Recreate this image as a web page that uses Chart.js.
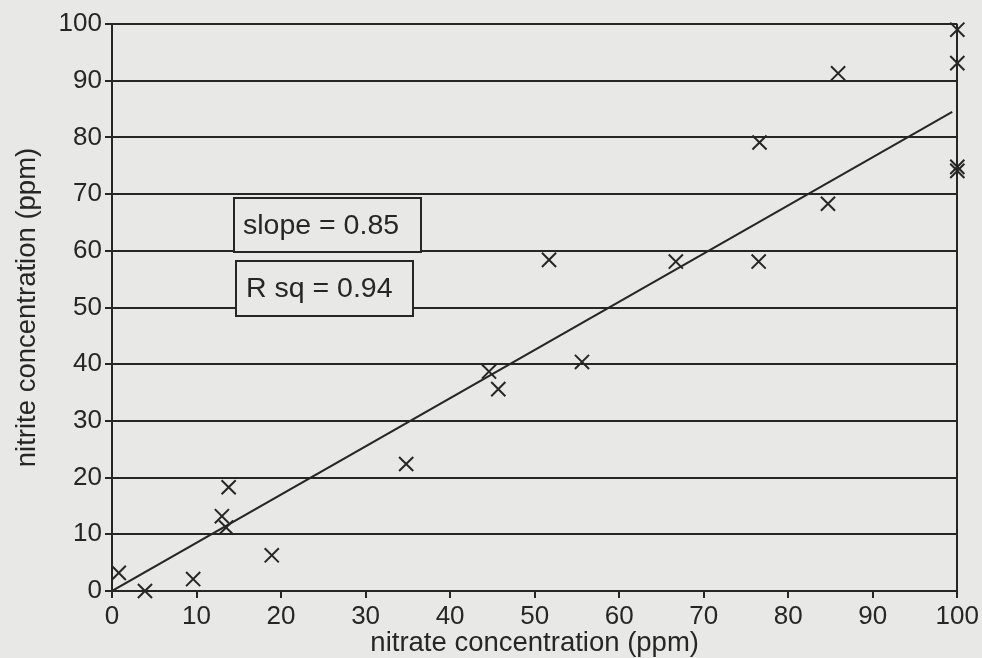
<!DOCTYPE html>
<html>
<head>
<meta charset="utf-8">
<script src="https://cdn.jsdelivr.net/npm/chart.js@4/dist/chart.umd.min.js"></script>
<style>
  html, body { margin: 0; padding: 0; background: #e8e8e6; }
  #wrap { width: 982px; height: 658px; position: relative; }
</style>
</head>
<body>
<div id="wrap"><canvas id="chart"></canvas></div>
<script>
// nitrate vs nitrite scatter, with fitted line and two text boxes
const nitrate = [0.8, 3.9, 9.6, 13.0, 13.8, 13.5, 18.9, 34.8, 44.6, 45.7, 55.6, 51.7, 66.7, 76.5, 76.6, 84.7, 85.9, 100, 100, 100, 100];
const nitrite = [3.2, 0, 2.1, 13.2, 18.3, 11.2, 6.3, 22.4, 38.7, 35.6, 40.4, 58.4, 58.1, 58.1, 79.1, 68.3, 91.3, 99.0, 93.1, 74.8, 74.1];

// fitted line end points
const fitX = [0, 99.4];
const fitY = [0, 84.5];

const xTicks = [0, 10, 20, 30, 40, 50, 60, 70, 80, 90, 100];
const yTicks = [0, 10, 20, 30, 40, 50, 60, 70, 80, 90, 100];

const boxTexts = ['slope = 0.85', 'R sq = 0.94'];

const INK = '#262626';
const PAPER = '#e8e8e6';
const FONT = '"Liberation Sans", Arial, sans-serif';

Chart.defaults.font.family = FONT;
Chart.defaults.color = INK;

// text boxes drawn over the grid lines (they hide the lines behind them)
const boxes = {
  id: 'boxes',
  beforeDatasetsDraw(chart) {
    const ctx = chart.ctx;
    const rects = [
      { x: 234, y: 198, w: 187, h: 54, tx: 243, ty: 226 },
      { x: 236, y: 261, w: 177, h: 55, tx: 246, ty: 289 }
    ];
    ctx.save();
    ctx.font = '28.5px ' + FONT;
    ctx.textBaseline = 'middle';
    rects.forEach((r, i) => {
      ctx.fillStyle = PAPER;
      ctx.fillRect(r.x, r.y, r.w, r.h);
      ctx.strokeStyle = INK;
      ctx.lineWidth = 2;
      ctx.strokeRect(r.x, r.y, r.w, r.h);
      ctx.fillStyle = INK;
      ctx.fillText(boxTexts[i], r.tx, r.ty);
    });
    ctx.restore();
  }
};

new Chart(document.getElementById('chart'), {
  type: 'scatter',
  data: {
    datasets: [
      {
        data: nitrate.map((x, i) => ({ x, y: nitrite[i] })),
        pointStyle: 'crossRot',
        pointRadius: 10,
        pointBorderWidth: 2,
        borderColor: INK,
        backgroundColor: INK,
        clip: false
      },
      {
        type: 'line',
        data: fitX.map((x, i) => ({ x, y: fitY[i] })),
        borderColor: INK,
        borderWidth: 2,
        pointRadius: 0,
        fill: false
      }
    ]
  },
  options: {
    responsive: true,
    maintainAspectRatio: false,
    animation: false,
    layout: { padding: { left: 0, top: 24, right: 23, bottom: 0 } },
    plugins: { legend: { display: false }, tooltip: { enabled: false } },
    scales: {
      x: {
        type: 'linear',
        min: 0, max: 100,
        afterBuildTicks: s => { s.ticks = xTicks.map(v => ({ value: v })); },
        afterFit: s => { s.height = 67; },
        ticks: { font: { size: 26 }, padding: 3, maxRotation: 0, color: INK },
        grid: {
          color: c => (c.tick && c.tick.value === 100 ? INK : 'rgba(0,0,0,0)'),
          tickColor: INK,
          tickLength: 7,
          lineWidth: 2
        },
        border: { display: true, color: INK, width: 2 },
        title: { display: true, text: 'nitrate concentration (ppm)', font: { size: 27.5, lineHeight: 1 }, color: INK, padding: { top: 0, bottom: 1 } }
      },
      y: {
        min: 0, max: 100,
        afterBuildTicks: s => { s.ticks = yTicks.map(v => ({ value: v })); },
        afterFit: s => { s.width = 112; },
        ticks: { font: { size: 26 }, padding: 3, color: INK },
        grid: { color: INK, tickColor: INK, tickLength: 7, lineWidth: 2 },
        border: { display: true, color: INK, width: 2 },
        title: { display: true, text: 'nitrite concentration (ppm)', font: { size: 27.5, lineHeight: 1 }, color: INK, padding: { top: 14, bottom: 0 } }
      }
    }
  },
  plugins: [boxes]
});
</script>
</body>
</html>
